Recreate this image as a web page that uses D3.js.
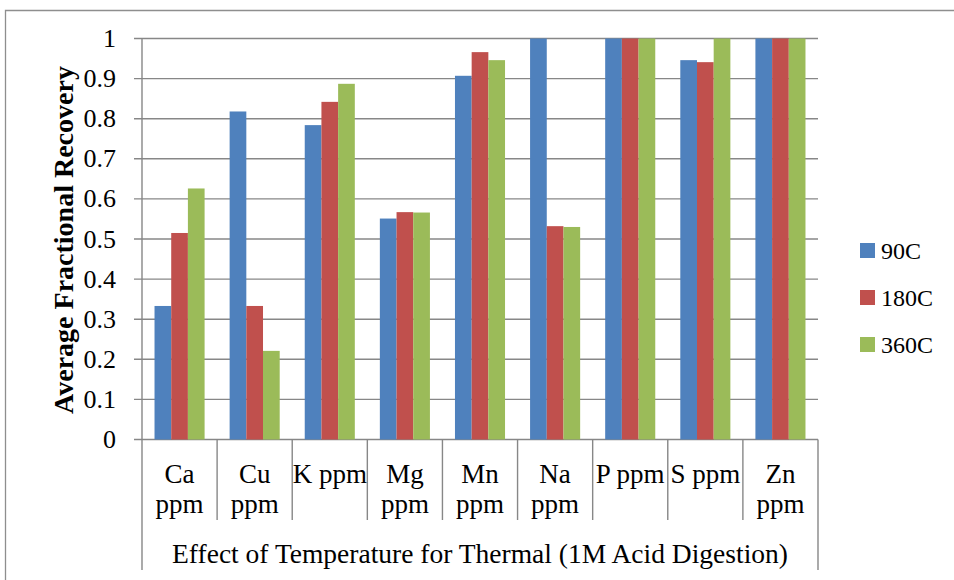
<!DOCTYPE html>
<html>
<head>
<meta charset="utf-8">
<script src="https://cdn.jsdelivr.net/npm/d3@7"></script>
<style>
  body { margin: 0; background: #fff; }
  text { font-family: "Liberation Serif", "Times New Roman", serif; fill: #000; }
</style>
</head>
<body>
<svg id="chart"></svg>
<script>
var categories = [["Ca", "ppm"], ["Cu", "ppm"], ["K ppm"], ["Mg", "ppm"], ["Mn", "ppm"], ["Na", "ppm"], ["P ppm"], ["S ppm"], ["Zn", "ppm"]]
var seriesNames = ["90C", "180C", "360C"]
var s90 = [0.333, 0.818, 0.784, 0.551, 0.907, 1.0, 1.0, 0.946, 1.0]
var s180 = [0.515, 0.333, 0.842, 0.567, 0.966, 0.532, 1.0, 0.941, 1.0]
var s360 = [0.626, 0.221, 0.887, 0.566, 0.946, 0.530, 1.0, 1.0, 1.0]
var yTicks = [0, 0.1, 0.2, 0.3, 0.4, 0.5, 0.6, 0.7, 0.8, 0.9, 1]
var yTitle = "Average Fractional Recovery"
var xTitle = "Effect of Temperature for Thermal (1M Acid Digestion)"

var colors = ["#4f81bd", "#c0504d", "#9bbb59"]
var allSeries = [s90, s180, s360]

var width = 954, height = 580
var plot = {left: 142, right: 818, top: 38.5, bottom: 439.5}

var svg = d3.select("#chart")
    .attr("width", width)
    .attr("height", height)

// outer chart border
svg.append("path")
    .attr("d", "M5.5,580V10.5H954")
    .attr("fill", "none")
    .attr("stroke", "#8e8e8e")
    .attr("stroke-width", 1.3)

var catKeys = categories.map((d) => d.join(" "))

var x = d3.scaleBand()
    .domain(catKeys)
    .range([plot.left, plot.right])

// Excel gap width 150% -> bar = band / 4.5
var barW = x.bandwidth() / 4.5
var xs = d3.scaleBand()
    .domain(seriesNames)
    .range([barW * 0.75, x.bandwidth() - barW * 0.75])

var y = d3.scaleLinear()
    .domain([0, 1])
    .range([plot.bottom, plot.top])

// gridlines
svg.append("g")
    .selectAll("line")
    .data(yTicks)
    .enter()
    .append("line")
    .attr("x1", plot.left - 8)
    .attr("x2", plot.right)
    .attr("y1", (d) => y(d))
    .attr("y2", (d) => y(d))
    .attr("stroke", "#878787")
    .attr("stroke-width", 1.4)

// bars
svg.append("g")
    .selectAll("g")
    .data(allSeries)
    .enter()
    .append("g")
    .attr("fill", (d, i) => colors[i])
    .each(function(vals, si) {
        d3.select(this)
            .selectAll("rect")
            .data(vals)
            .enter()
            .append("rect")
            .attr("x", (d, i) => x(catKeys[i]) + xs(seriesNames[si]))
            .attr("width", xs.bandwidth())
            .attr("y", (d) => y(d))
            .attr("height", (d) => y(0) - y(d))
    })

// y tick labels
svg.append("g")
    .selectAll("text")
    .data(yTicks)
    .enter()
    .append("text")
    .attr("x", 116)
    .attr("y", (d) => y(d) + 8.5)
    .attr("text-anchor", "end")
    .style("font-size", "26px")
    .text((d) => d)

// left axis line
svg.append("line")
    .attr("x1", plot.left).attr("x2", plot.left)
    .attr("y1", plot.top).attr("y2", 570)
    .attr("stroke", "#878787")
    .attr("stroke-width", 1.4)

svg.append("line")
    .attr("x1", plot.right).attr("x2", plot.right)
    .attr("y1", plot.bottom).attr("y2", 570)
    .attr("stroke", "#878787")
    .attr("stroke-width", 1.4)

// category separators
svg.append("g")
    .selectAll("line")
    .data(catKeys.slice(1))
    .enter()
    .append("line")
    .attr("x1", (d) => x(d)).attr("x2", (d) => x(d))
    .attr("y1", plot.bottom).attr("y2", 520)
    .attr("stroke", "#878787")
    .attr("stroke-width", 1.4)

// category labels
svg.append("g")
    .selectAll("text")
    .data(categories)
    .enter()
    .append("text")
    .attr("text-anchor", "middle")
    .style("font-size", "27px")
    .each(function(lines, i) {
        d3.select(this)
            .selectAll("tspan")
            .data(lines)
            .enter()
            .append("tspan")
            .attr("x", x(catKeys[i]) + x.bandwidth() / 2)
            .attr("y", (d, j) => 483 + j * 30)
            .text((d) => d)
    })

svg.append("text")
    .attr("x", (plot.left + plot.right) / 2)
    .attr("y", 563)
    .attr("text-anchor", "middle")
    .style("font-size", "27.5px")
    .text(xTitle)

svg.append("text")
    .attr("transform", "translate(73,240) rotate(-90)")
    .attr("text-anchor", "middle")
    .style("font-size", "28px")
    .style("font-weight", "bold")
    .text(yTitle)

// legend
var legend = svg.append("g")
    .selectAll("g")
    .data(seriesNames)
    .enter()
    .append("g")
    .attr("transform", (d, i) => "translate(860," + (243 + i * 47) + ")")

legend.append("rect")
    .attr("width", 15)
    .attr("height", 15)
    .attr("fill", (d, i) => colors[i])

legend.append("text")
    .attr("x", 21)
    .attr("y", 16)
    .style("font-size", "24px")
    .text((d) => d)
</script>
</body>
</html>
